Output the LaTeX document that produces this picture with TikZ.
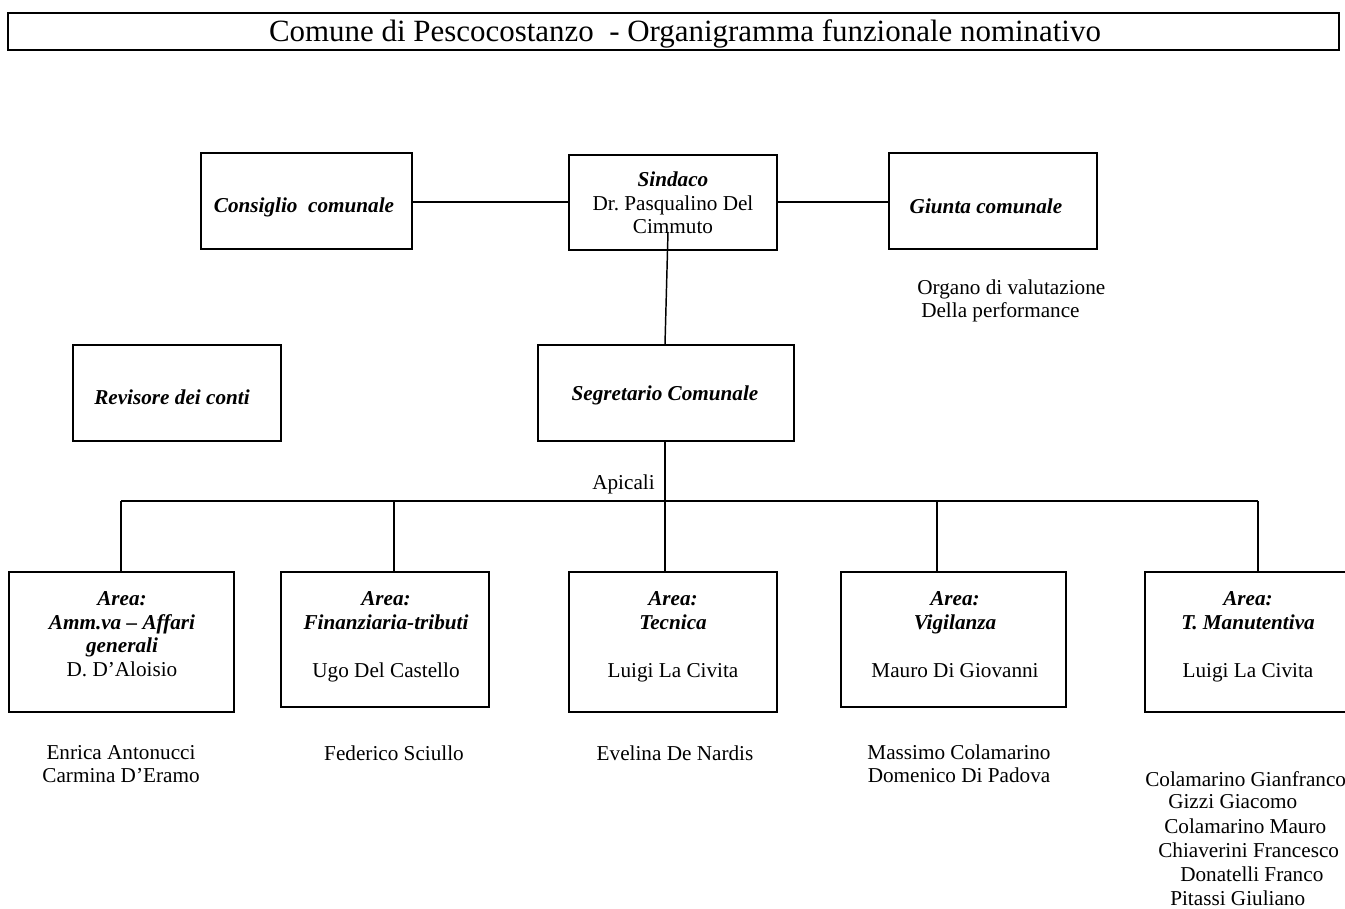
\documentclass[tikz,border=0pt]{standalone}
\usepackage{fontspec}
\setmainfont{Liberation Serif}
\usetikzlibrary{fit,calc}
\newcommand\mybody{\fontsize{15.9}{17.6}\selectfont}
\newcommand\mytitle{\fontsize{23.2}{26}\selectfont}
\tikzset{
  box/.style={draw, line width=1.4pt, inner sep=0pt, align=center, font=\mybody},
  titlebox/.style={draw, line width=1.4pt, inner sep=0pt, font=\mytitle},
  conn/.style={line width=1.1pt},
  txt/.style={inner sep=0pt, align=center, font=\mybody},
  areatxt/.style={inner sep=0pt, align=center, anchor=north, font=\mybody},
  lefttxt/.style={inner sep=0pt, anchor=west, font=\mybody},
}
\begin{document}
\begin{tikzpicture}[x=0.75pt,y=-0.75pt]
\useasboundingbox (0,0) rectangle (1345,909);

% title
\node[titlebox, fit={(8,13) (1339,50)}] (title) {};
\node[inner sep=0pt, font=\mytitle] (titletext) at (685,34) {Comune di Pescocostanzo \ - Organigramma funzionale nominativo};

% top row
\node[box, fit={(201,153) (412,249)}] (cons) {};
\node[txt, font=\mybody\bfseries\itshape] (consT) at (304,207) {Consiglio \ comunale};
\node[box, fit={(569,155) (777,250)}] (sind) {};
\node[txt] (sindT) at (673,203) {\textbf{\textit{Sindaco}}\\Dr.\ Pasqualino Del\\Cimmuto};
\node[box, fit={(889,153) (1097,249)}] (giun) {};
\node[txt, font=\mybody\bfseries\itshape] (giunT) at (986,206) {Giunta comunale};

\node[lefttxt] (org1) at (917,289) {Organo di valutazione};
\node[lefttxt] (org2) at (921,312) {Della performance};

% second row
\node[box, fit={(73,345) (281,441)}] (rev) {};
\node[txt, font=\mybody\bfseries\itshape] (revT) at (172,397) {Revisore dei conti};
\node[box, fit={(538,345) (794,441)}] (segr) {};
\node[txt, font=\mybody\bfseries\itshape] (segrT) at (665,395) {Segretario Comunale};

% area boxes
\node[box, fit={(9,572) (234,712)}] (a1) {};
\node[box, fit={(281,572) (489,707)}] (a2) {};
\node[box, fit={(569,572) (777,712)}] (a3) {};
\node[box, fit={(841,572) (1066,707)}] (a4) {};
\node[box, fit={(1145,572) (1352,712)}] (a5) {};

\node[areatxt] (a1T) at (122,589) {\strut\textbf{\textit{Area:}}\\\textbf{\textit{Amm.va – Affari}}\\\textbf{\textit{generali}}\\D. D’Aloisio};
\node[areatxt] (a2T) at (386,589) {\strut\textbf{\textit{Area:}}\\\textbf{\textit{Finanziaria-tributi}}\\[19pt]Ugo Del Castello};
\node[areatxt] (a3T) at (673,589) {\strut\textbf{\textit{Area:}}\\\textbf{\textit{Tecnica}}\\[19pt]Luigi La Civita};
\node[areatxt] (a4T) at (955,589) {\strut\textbf{\textit{Area:}}\\\textbf{\textit{Vigilanza}}\\[19pt]Mauro Di Giovanni};
\node[areatxt] (a5T) at (1248,589) {\strut\textbf{\textit{Area:}}\\\textbf{\textit{T. Manutentiva}}\\[19pt]Luigi La Civita};

% staff below
\node[txt] (s1) at (121,764) {Enrica Antonucci\\Carmina D’Eramo};
\node[txt] (s2) at (394,753) {Federico Sciullo};
\node[txt] (s3) at (675,753) {Evelina De Nardis};
\node[txt] (s4) at (959,764) {Massimo Colamarino\\Domenico Di Padova};
\node[lefttxt] (s5a) at (1145,779) {Colamarino Gianfranco};
\node[lefttxt] (s5b) at (1168,802) {Gizzi Giacomo};
\node[lefttxt] (s5c) at (1164,826) {Colamarino Mauro};
\node[lefttxt] (s5d) at (1158,850) {Chiaverini Francesco};
\node[lefttxt] (s5e) at (1180,874) {Donatelli Franco};
\node[lefttxt] (s5f) at (1170,898) {Pitassi Giuliano};

% connectors
\draw[conn] (cons.east |- 0,202) -- (sind.west |- 0,202);
\draw[conn] (sind.east |- 0,202) -- (giun.west |- 0,202);
\coordinate (sindin) at (668,232);
\draw[conn] (sindin) -- ($(segr.north)+(-1,0)$);
\coordinate (segrbot) at (665,441);
\draw[conn] (segrbot) -- (segrbot |- a3.north);
\node[inner sep=0pt, anchor=east, font=\mybody] (apic) at (655,484) {Apicali};

\coordinate (b1) at (121,501);
\coordinate (b2) at (394,501);
\coordinate (b4) at (937,501);
\coordinate (b5) at (1258,501);
\draw[conn] (b1) -- (b5);
\draw[conn] (b1) -- (b1 |- a1.north);
\draw[conn] (b2) -- (b2 |- a2.north);
\draw[conn] (b4) -- (b4 |- a4.north);
\draw[conn] (b5) -- (b5 |- a5.north);
\end{tikzpicture}
\end{document}
